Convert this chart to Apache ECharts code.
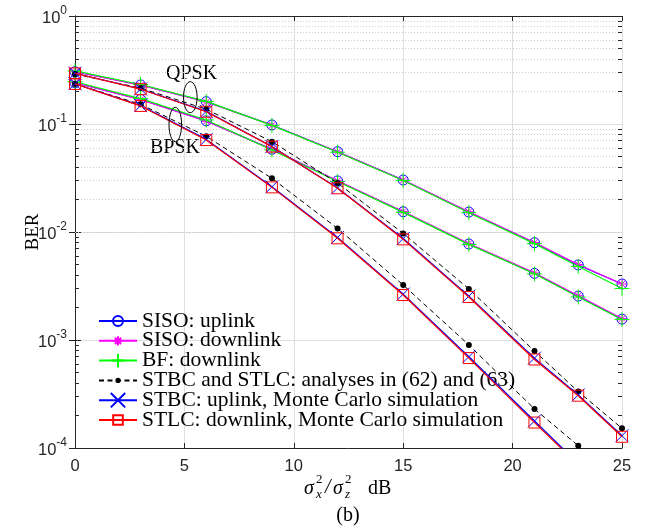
<!DOCTYPE html>
<html><head><meta charset="utf-8">
<script src="https://cdn.jsdelivr.net/npm/echarts/dist/echarts.min.js"></script>
<style>html,body{margin:0;padding:0;background:#fff}#c{width:647px;height:529px}</style>
</head><body><div id="c"></div>
<script>
// ---------- data ----------
const snr = [0, 3, 6, 9, 12, 15, 18, 21, 23, 25];
const xTickValues = [0, 5, 10, 15, 20, 25];
const yDecades = [-4, -3, -2, -1, 0];

const qpskSisoUp   = [0.305, 0.230, 0.161, 0.098, 0.0554, 0.0303, 0.0153, 0.00796, 0.00495, 0.0033];
const qpskSisoDown = [0.305, 0.229, 0.160, 0.0975, 0.0552, 0.0302, 0.0154, 0.0080, 0.0050, 0.0033];
const qpskBF       = [0.310, 0.232, 0.162, 0.097, 0.0548, 0.0300, 0.0151, 0.0078, 0.0048, 0.0030];
const qpskAnalysis = [0.290, 0.215, 0.137, 0.0686, 0.0284, 0.0097, 0.00297, 0.00079, 0.000333, 0.000152];
const qpskSTBC     = [0.295, 0.211, 0.131, 0.0620, 0.0256, 0.0087, 0.00255, 0.00068, 0.00031, 0.00013];
const qpskSTLC     = [0.294, 0.210, 0.130, 0.0617, 0.0254, 0.00855, 0.0025, 0.00066, 0.000305, 0.000127];

const bpskSisoUp   = [0.241, 0.169, 0.107, 0.0583, 0.0297, 0.0154, 0.00774, 0.00414, 0.00255, 0.00156];
const bpskSisoDown = [0.241, 0.168, 0.106, 0.0580, 0.0298, 0.0155, 0.00780, 0.00418, 0.00257, 0.00158];
const bpskBF       = [0.246, 0.172, 0.109, 0.0575, 0.0293, 0.0152, 0.00768, 0.00410, 0.00250, 0.00155];
const bpskAnalysis = [0.235, 0.152, 0.077, 0.0314, 0.0108, 0.00323, 0.00090, 0.00023, 0.000105, 0.000040];
const bpskSTBC     = [0.236, 0.148, 0.072, 0.0262, 0.0089, 0.00266, 0.00070, 0.000178, 0.000072, 0.000029];
const bpskSTLC     = [0.235, 0.147, 0.071, 0.0259, 0.00874, 0.00261, 0.00068, 0.000172, 0.000070, 0.000028];

const legendNames = [
  'SISO: uplink',
  'SISO: downlink',
  'BF: downlink',
  'STBC and STLC: analyses in (62) and (63)',
  'STBC: uplink, Monte Carlo simulation',
  'STLC: downlink, Monte Carlo simulation'
];
const groupLabels = ['QPSK', 'BPSK'];

// ---------- styles ----------
const starPath = 'path://M0,5 L10,5 M5,0 L5,10 M1.6,1.6 L8.4,8.4 M1.6,8.4 L8.4,1.6';
const plusPath = 'path://M0,5 L10,5 M5,0 L5,10';
const xPath = 'path://M0,0 L10,10 M0,10 L10,0';
const styles = [
  {symbol: 'circle', size: 10, color: '#0000ff', fill: 'rgba(0,0,0,0)', legendH: 12.5},
  {symbol: starPath, size: 9, color: '#ff00ff', fill: 'rgba(0,0,0,0)', legendH: 11.5},
  {symbol: plusPath, size: 15, color: '#00ff00', fill: 'rgba(0,0,0,0)', legendH: 17},
  {symbol: 'circle', size: 6, color: '#000000', fill: '#000000', legendH: 6.5, dashed: true},
  {symbol: xPath, size: 13, color: '#0000ff', fill: 'rgba(0,0,0,0)', legendH: 18},
  {symbol: 'rect', size: 11, color: '#ff0000', fill: 'rgba(0,0,0,0)', legendH: 12}
];
const seriesData = [
  [qpskSisoUp, bpskSisoUp],
  [qpskSisoDown, bpskSisoDown],
  [qpskBF, bpskBF],
  [qpskAnalysis, bpskAnalysis],
  [qpskSTBC, bpskSTBC],
  [qpskSTLC, bpskSTLC]
];

const axisColor = '#262626';
const series = [];

// minor grid + minor ticks (log decades 2..9)
const minorVals = [];
yDecades.slice(0, -1).forEach(d => { for (let k = 2; k <= 9; k++) minorVals.push(k * Math.pow(10, d)); });
series.push({
  type: 'line', name: '_grid', data: [], silent: true, z: 1,
  markLine: {
    silent: true, animation: false, symbol: ['none', 'none'], label: {show: false},
    emphasis: {disabled: true},
    lineStyle: {type: [1, 2], color: '#cccccc', width: 1},
    data: minorVals.map(v => ({yAxis: v}))
  }
});
series.push({
  type: 'line', name: '_ticks', data: [], silent: true, z: 5,
  markLine: {
    silent: true, animation: false, symbol: ['none', 'none'], label: {show: false},
    emphasis: {disabled: true},
    lineStyle: {type: 'solid', color: axisColor, width: 1},
    data: minorVals.map(v => [{coord: [0, v]}, {coord: [0.18, v]}])
      .concat(minorVals.map(v => [{coord: [24.82, v]}, {coord: [25, v]}]))
  }
});

seriesData.forEach((pair, i) => {
  const st = styles[i];
  pair.forEach(vals => {
    series.push({
      type: 'line', name: legendNames[i], z: 10 + i,
      data: snr.map((x, j) => [x, vals[j]]),
      symbol: st.symbol, symbolSize: st.size, showAllSymbol: true,
      clip: true, animation: false,
      lineStyle: {color: st.color, width: st.dashed ? 1 : 1.2, type: st.dashed ? [5, 3.5] : 'solid'},
      itemStyle: {color: st.fill, borderColor: st.color, borderWidth: st.dashed ? 0 : 1},
      emphasis: {disabled: true}
    });
  });
});

// legends, one per entry so each keeps its marker size
const legendCenter0 = 320, legendStep = 19.8, legendLineH = 20;
const legends = legendNames.map((n, i) => ({
  data: [n], orient: 'vertical', left: 98,
  top: legendCenter0 + i * legendStep - Math.max(legendLineH, styles[i].legendH) / 2,
  padding: 0, itemWidth: 38, itemHeight: styles[i].legendH, itemGap: 0,
  selectedMode: false,
  textStyle: {fontFamily: 'Liberation Serif', fontSize: 21.5, lineHeight: legendLineH, color: '#000'}
}));

const sup = (t, x, y) => ({type: 'text', left: x, top: y, style: {text: t, font: '13px "Liberation Serif"', fill: '#000'}});
const option = {
  backgroundColor: '#fff',
  animation: false,
  grid: {left: 75, right: 25, top: 16, bottom: 81, containLabel: false},
  legend: legends,
  xAxis: [{
    type: 'value', min: 0, max: 25, interval: 5, position: 'bottom',
    axisLine: {lineStyle: {color: axisColor, width: 1}},
    axisTick: {inside: true, length: 5, lineStyle: {color: axisColor}},
    axisLabel: {margin: 10, color: axisColor, fontFamily: 'Liberation Sans', fontSize: 16.5,
      formatter: v => xTickValues.includes(v) ? String(v) : ''},
    splitLine: {show: true, lineStyle: {color: '#dedede', width: 1}}
  }, {
    type: 'value', min: 0, max: 25, interval: 5, position: 'top',
    axisLine: {lineStyle: {color: axisColor, width: 1}},
    axisTick: {inside: true, length: 5, lineStyle: {color: axisColor}},
    axisLabel: {show: false}, splitLine: {show: false}
  }],
  yAxis: [{
    type: 'log', logBase: 10, min: 1e-4, max: 1, position: 'left',
    axisLine: {show: true, lineStyle: {color: axisColor, width: 1}},
    axisTick: {show: true, inside: true, length: 6, lineStyle: {color: axisColor}},
    axisLabel: {
      margin: 8,
      formatter: v => '{b|10}{s|' + Math.round(Math.log10(v)) + '}',
      rich: {
        b: {fontFamily: 'Liberation Sans', fontSize: 16.5, color: axisColor, lineHeight: 22, verticalAlign: 'bottom'},
        s: {fontFamily: 'Liberation Sans', fontSize: 12, color: axisColor, lineHeight: 12, verticalAlign: 'top'}
      }
    },
    splitLine: {show: true, lineStyle: {color: '#dedede', width: 1}}
  }, {
    type: 'log', logBase: 10, min: 1e-4, max: 1, position: 'right',
    axisLine: {show: true, lineStyle: {color: axisColor, width: 1}},
    axisTick: {show: true, inside: true, length: 6, lineStyle: {color: axisColor}},
    axisLabel: {show: false}, splitLine: {show: false}
  }],
  series: series,
  graphic: [
    {type: 'text', left: 166, top: 64, style: {text: groupLabels[0], font: '20px "Liberation Serif"', fill: '#000'}},
    {type: 'text', left: 150, top: 138, style: {text: groupLabels[1], font: '20px "Liberation Serif"', fill: '#000'}},
    {type: 'ellipse', shape: {cx: 190.3, cy: 97.2, rx: 6.8, ry: 15.5}, style: {fill: 'none', stroke: '#000', lineWidth: 1}, z: 100},
    {type: 'ellipse', shape: {cx: 175.3, cy: 124.5, rx: 6.3, ry: 17.2}, style: {fill: 'none', stroke: '#000', lineWidth: 1}, z: 100},
    {type: 'text', x: 33, y: 232, rotation: Math.PI / 2,
      style: {text: 'BER', font: '19px "Liberation Serif"', fill: '#000', textAlign: 'center', textVerticalAlign: 'middle'}},
    {type: 'text', left: 304, top: 479, style: {text: 'σ', font: 'italic 20px "Liberation Serif"', fill: '#000'}},
    sup('2', 316, 473), {type: 'text', left: 316, top: 488, style: {text: 'x', font: 'italic 13px "Liberation Serif"', fill: '#000'}},
    {type: 'text', left: 325, top: 478, style: {text: '/', font: 'italic 20px "Liberation Serif"', fill: '#000'}},
    {type: 'text', left: 333, top: 479, style: {text: 'σ', font: 'italic 20px "Liberation Serif"', fill: '#000'}},
    sup('2', 345, 473), {type: 'text', left: 345, top: 488, style: {text: 'z', font: 'italic 13px "Liberation Serif"', fill: '#000'}},
    {type: 'text', left: 368, top: 479, style: {text: 'dB', font: '20px "Liberation Serif"', fill: '#000'}},
    {type: 'text', x: 348, y: 516, style: {text: '(b)', font: '20px "Liberation Serif"', fill: '#000', textAlign: 'center', textVerticalAlign: 'middle'}}
  ]
};
const chart = echarts.init(document.getElementById('c'), null, {renderer: 'canvas'});
chart.setOption(option);
</script>
</body></html>
